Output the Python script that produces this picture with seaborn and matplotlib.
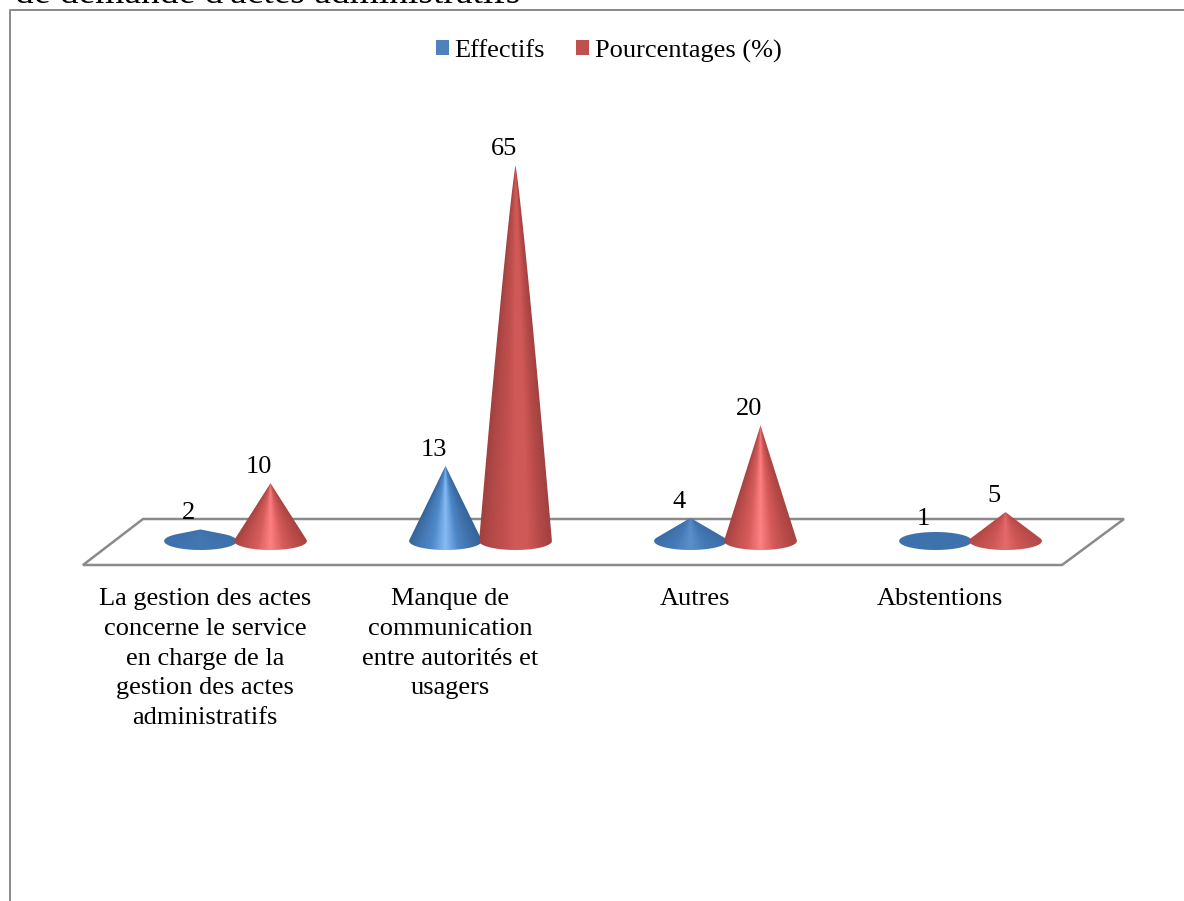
import numpy as np
import pandas as pd
import seaborn as sns
import matplotlib
matplotlib.use("Agg")
import matplotlib.pyplot as plt
from matplotlib.colors import LinearSegmentedColormap, to_rgb
from matplotlib.lines import Line2D
from matplotlib.patches import Patch, Polygon
from matplotlib.transforms import Affine2D, ScaledTranslation

# Survey results
categories = [
    "La gestion des actes\nconcerne le service\nen charge de la\ngestion des actes\nadministratifs",
    "Manque de\ncommunication\nentre autorités et\nusagers",
    "Autres",
    "Abstentions",
]
series_names = ["Effectifs", "Pourcentages (%)"]
effectifs = [2, 13, 4, 1]
pourcentages = [10, 65, 20, 5]
heading = "de demande d'actes administratifs"

W, H = 1184, 901
DPI = 100
SERIF = "Liberation Serif"
LABEL_SIZE = 19
GREY = "#8a8a8a"

sns.set_theme(style="white", rc={"font.family": SERIF, "text.color": "black"})

fig = plt.figure(figsize=(W / DPI, H / DPI), dpi=DPI, facecolor="white")
# Pixel-based transform (origin top-left) for the chart furniture
px = Affine2D().scale(1 / W, -1 / H).translate(0, 1) + fig.transFigure


def axes_rect(left, top, right, bottom):
    return [left / W, 1 - bottom / H, (right - left) / W, (bottom - top) / H]


ax = fig.add_axes(axes_rect(113, 100, 1093, 565), facecolor="none")

df = pd.DataFrame({
    "categorie": categories * 2,
    "serie": np.repeat(series_names, len(categories)),
    "valeur": effectifs + pourcentages,
})
# The bars supply positions and heights; each one is rendered as a shaded cone
sns.barplot(data=df, x="categorie", y="valeur", hue="serie", hue_order=series_names,
            order=categories, width=0.5714, gap=0, legend=False, errorbar=None, ax=ax)

PX_PER_UNIT = 5.78
ax.set_xlim(-0.5, 3.5)
ax.set_ylim(-24 / PX_PER_UNIT, 441 / PX_PER_UNIT)

palettes = {
    0: dict(flat="#3f72ad",
            stops=["#356497", "#4477b4", "#4f8aca", "#86bcf5", "#4c85c5", "#3f70aa", "#356497"],
            muted=["#356497", "#3f70aa", "#4477b4", "#4c85c5", "#4477b4", "#3f70aa", "#356497"]),
    1: dict(flat="#c0504d",
            stops=["#a64341", "#c04f4d", "#d65d5b", "#ff8083", "#d55b59", "#bb4c4a", "#a64341"],
            muted=["#a04140", "#b44a48", "#c04f4d", "#d05a58", "#cf5957", "#b64a48", "#a04140"]),
}
BASE_B = 9 / PX_PER_UNIT  # ellipse semi-minor axis, value units
RADIUS_FACTOR = 1.04


def cone_outline(xc, a, b, h, power):
    """Silhouette of a cone seen slightly from above; power < 1 swells the flanks."""
    if h <= b:
        t = np.linspace(0, 2 * np.pi, 120)
        return np.column_stack([xc + a * np.cos(t), b * np.sin(t)])
    yt = b * b / h
    xt = a * np.sqrt(1 - (yt / b) ** 2)
    t0 = np.arctan2(yt / b, xt / a)
    t = np.linspace(np.pi - t0, 2 * np.pi + t0, 100)
    arc = np.column_stack([xc + a * np.cos(t), b * np.sin(t)])
    ramp = np.linspace(0, 1, 80)
    ys = h + (yt - h) * ramp
    left = np.column_stack([xc - xt * ramp ** power, ys])
    right = np.column_stack([xc + xt * ramp[::-1] ** power, ys[::-1]])
    return np.vstack([left, arc, right])


def draw_cone(bar, style):
    xc = bar.get_x() + bar.get_width() / 2
    h = bar.get_height()
    a = bar.get_width() / 2 * RADIUS_FACTOR
    b = BASE_B
    strength = np.clip((h / b - 1) / 4, 0, 1)
    tallness = np.clip((h - 20) / 45, 0, 1)
    power = 1 - 0.12 * tallness

    ny, nx = 500, 240
    top = max(h, b)
    xs = np.linspace(xc - a, xc + a, nx)
    ys = np.linspace(top, -b, ny)
    gx, gy = np.meshgrid(xs, ys)
    scale = np.maximum((h - gy) / h, 1e-3) ** power
    pos = (np.clip((gx - xc) / (a * scale), -1, 1) + 1) / 2

    bright = LinearSegmentedColormap.from_list("cone", style["stops"])(pos)[..., :3]
    muted = LinearSegmentedColormap.from_list("cone_m", style["muted"])(pos)[..., :3]
    rgb = (1 - tallness) * bright + tallness * muted
    flat = np.array(to_rgb(style["flat"]))
    rgb = strength * rgb + (1 - strength) * flat

    img = ax.imshow(rgb, extent=(xc - a, xc + a, -b, top), aspect="auto",
                    interpolation="bilinear", zorder=3 + xc * 0.001)
    clip = Polygon(cone_outline(xc, a, b, h, power), closed=True, transform=ax.transData)
    img.set_clip_path(clip)


for hue_index, container in enumerate(ax.containers):
    for bar, value in zip(container, container.datavalues):
        bar.set_visible(False)
        draw_cone(bar, palettes[hue_index])
        ax.annotate(f"{value:g}", (bar.get_x() + bar.get_width() / 2, value),
                    xytext=(-11.8 * 0.72, 16 * 0.72), textcoords="offset points",
                    ha="center", va="center", fontsize=LABEL_SIZE, color="black",
                    family=SERIF, zorder=10)

ax.set_xlim(-0.5, 3.5)
ax.set_ylim(-24 / PX_PER_UNIT, 441 / PX_PER_UNIT)

# Axis dressing: only the wrapped category labels remain
sns.despine(ax=ax, left=True, bottom=True)
ax.set_xlabel("")
ax.set_ylabel("")
ax.set_yticks([])
ax.tick_params(axis="x", length=0, pad=16.5, labelsize=LABEL_SIZE, colors="black")
shift = ScaledTranslation(-30.5 / DPI, 0, fig.dpi_scale_trans)
for tick_label in ax.get_xticklabels():
    tick_label.set_transform(tick_label.get_transform() + shift)
    tick_label.set_linespacing(1.46)
    tick_label.set_family(SERIF)
    tick_label.set_verticalalignment("top")

# Floor of the 3D scene
floor = Polygon([(143, 519), (1124, 519), (1062, 565), (83, 565)], closed=True,
                transform=px, facecolor="white", edgecolor=GREY, linewidth=1.8, zorder=-1)
fig.add_artist(floor)

# Chart frame, running off the page at the right and bottom
fig.add_artist(Line2D([10, 10, 1184], [901, 10, 10], transform=px, color=GREY,
                      linewidth=1.4, zorder=-2))

# Last line of the running text above the chart
fig.text(15 / W, 1 - 3 / H, heading, fontsize=27, family=SERIF, color="black",
         ha="left", va="baseline")

handles = [Patch(facecolor="#4f81bd", edgecolor="none", label=series_names[0]),
           Patch(facecolor="#c0504d", edgecolor="none", label=series_names[1])]
fig.legend(handles=handles, loc="center", bbox_to_anchor=(608.5 / W, 1 - 51 / H),
           ncol=2, frameon=False, fontsize=LABEL_SIZE, handlelength=0.52, handleheight=0.52,
           handletextpad=0.2, columnspacing=1.16, borderpad=0, labelcolor="black")

fig.savefig("out.png", dpi=DPI, facecolor="white")
